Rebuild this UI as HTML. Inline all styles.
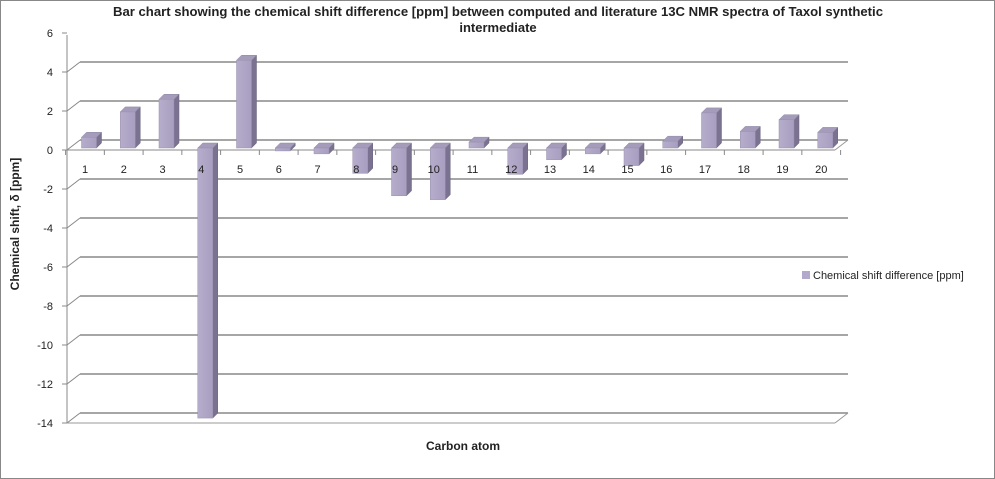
<!DOCTYPE html>
<html><head><meta charset="utf-8"><style>
body{margin:0;background:#fff}
svg{display:block;font-family:"Liberation Sans",Arial,sans-serif}
</style></head><body>
<svg width="995" height="479" viewBox="0 0 995 479">
<defs>
<linearGradient id="fg" x1="0" x2="1"><stop offset="0" stop-color="#b6adcc"/><stop offset="1" stop-color="#a89ec0"/></linearGradient>
</defs>
<rect x="0.5" y="0.5" width="994" height="478" fill="#fff" stroke="#888"/>
<text x="498" y="16" text-anchor="middle" font-size="13" font-weight="bold" fill="#222" textLength="770" lengthAdjust="spacingAndGlyphs">Bar chart showing the chemical shift difference [ppm] between computed and literature 13C NMR spectra of Taxol synthetic</text>
<text x="498" y="32" text-anchor="middle" font-size="13" font-weight="bold" fill="#222">intermediate</text>
<text transform="translate(19,224) rotate(-90)" text-anchor="middle" font-size="12" font-weight="bold" fill="#222">Chemical shift, δ [ppm]</text>
<text x="463" y="450" text-anchor="middle" font-size="12" font-weight="bold" fill="#222">Carbon atom</text>
<g>
<rect x="802" y="271" width="8" height="8" fill="#b3aacb"/>
<text x="813" y="279" font-size="11" fill="#222">Chemical shift difference [ppm]</text>
</g>
<g id="grid"></g>
<g id="bars"></g>
<g id="labels"></g>
</svg>
<script>
const categories=["1","2","3","4","5","6","7","8","9","10","11","12","13","14","15","16","17","18","19","20"];
const values=[0.55,1.85,2.5,-13.85,4.5,-0.15,-0.3,-1.3,-2.45,-2.65,0.3,-1.35,-0.6,-0.3,-0.9,0.35,1.8,0.85,1.45,0.8];
const yTicks=[6,4,2,0,-2,-4,-6,-8,-10,-12,-14];
const NS="http://www.w3.org/2000/svg";
const yFront=v=>150-19.5*v;
const yBar=v=>148-19.5*v;
const xCat=i=>85+i*38.75;
const DX=13,DY=10;
function mk(t,a,p){const e=document.createElementNS(NS,t);for(const k in a)e.setAttribute(k,a[k]);p.appendChild(e);return e;}
const grid=document.getElementById('grid'),bars=document.getElementById('bars'),labels=document.getElementById('labels');
mk('line',{x1:67,y1:yFront(6)+2,x2:67,y2:yFront(-14),stroke:'#888','stroke-width':1},grid);
yTicks.forEach(t=>{
  const y=yFront(t);
  const g=mk('g',{},grid);
  
  
  mk('line',{x1:62,y1:y,x2:67,y2:y,stroke:'#888'},g);
  if(t<6){
    mk('line',{x1:67,y1:y,x2:67+DX,y2:y-DY,stroke:'#888'},g);
    mk('line',{x1:67+DX,y1:y-DY,x2:848,y2:y-DY,stroke:'#888','stroke-width':1.5},g);
  }
  if(t===-14){mk('line',{x1:67,y1:y,x2:835,y2:y,stroke:'#999'},g);mk('line',{x1:835,y1:y,x2:848,y2:y-DY,stroke:'#999'},g);}
  const tx=mk('text',{x:53,y:y+4,'text-anchor':'end','font-size':11,fill:'#222'},labels);
  tx.textContent=t;
  
  
});
const z=yFront(0);
mk('line',{x1:67,y1:z,x2:835,y2:z,stroke:'#888'},grid);
mk('line',{x1:835,y1:z,x2:848,y2:z-DY,stroke:'#999'},grid);
for(let i=0;i<=categories.length;i++){
  const x=xCat(i)-19.4;
  mk('line',{x1:x,y1:z,x2:x,y2:z+5,stroke:'#888'},grid);
}
values.forEach((v,i)=>{
  const cx=xCat(i)+4,w=15,d=5;
  const x0=cx-w/2;
  const y0=yBar(0),y1=yBar(v);
  const top=Math.min(y0,y1),bot=Math.max(y0,y1);
  const g=mk('g',{},bars);
  
  
  mk('polygon',{points:`${x0+w},${top} ${x0+w+d},${top-d} ${x0+w+d},${bot-d} ${x0+w},${bot}`,fill:'#7a7290',stroke:'#6e6780','stroke-width':0.5},g);
  mk('polygon',{points:`${x0},${top} ${x0+d},${top-d} ${x0+w+d},${top-d} ${x0+w},${top}`,fill:'#a59cbc',stroke:'#8f88a4','stroke-width':0.5},g);
  mk('rect',{x:x0,y:top,width:w,height:Math.max(bot-top,1),fill:'url(#fg)',stroke:'#9991ad','stroke-width':0.5},g);
});
categories.forEach((c,i)=>{
  const t=mk('text',{x:xCat(i),y:173,'text-anchor':'middle','font-size':11,fill:'#222'},labels);
  t.textContent=c;
  
  
});
</script>
</body></html>
